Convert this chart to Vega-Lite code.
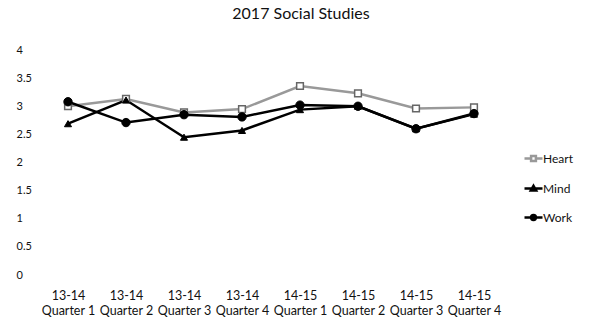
{
  "$schema": "https://vega.github.io/schema/vega-lite/v6.json",
  "width": 464,
  "height": 225,
  "autosize": "none",
  "padding": {"left": 39, "top": 50, "right": 105, "bottom": 50},
  "background": "white",
  "title": {"text": "2017 Social Studies", "fontSize": 16, "font": "Lato", "fontWeight": "normal", "color": "#111", "offset": 22, "dx": 30},
  "config": {"view": {"stroke": null}, "font": "Lato"},
  "data": {"values": [
    {"period": "13-14|Quarter 1", "series": "Heart", "value": 3.0},
    {"period": "13-14|Quarter 2", "series": "Heart", "value": 3.13},
    {"period": "13-14|Quarter 3", "series": "Heart", "value": 2.89},
    {"period": "13-14|Quarter 4", "series": "Heart", "value": 2.95},
    {"period": "14-15|Quarter 1", "series": "Heart", "value": 3.36},
    {"period": "14-15|Quarter 2", "series": "Heart", "value": 3.23},
    {"period": "14-15|Quarter 3", "series": "Heart", "value": 2.96},
    {"period": "14-15|Quarter 4", "series": "Heart", "value": 2.98},
    {"period": "13-14|Quarter 1", "series": "Mind", "value": 2.69},
    {"period": "13-14|Quarter 2", "series": "Mind", "value": 3.11},
    {"period": "13-14|Quarter 3", "series": "Mind", "value": 2.45},
    {"period": "13-14|Quarter 4", "series": "Mind", "value": 2.57},
    {"period": "14-15|Quarter 1", "series": "Mind", "value": 2.94},
    {"period": "14-15|Quarter 2", "series": "Mind", "value": 3.0},
    {"period": "14-15|Quarter 3", "series": "Mind", "value": 2.6},
    {"period": "14-15|Quarter 4", "series": "Mind", "value": 2.86},
    {"period": "13-14|Quarter 1", "series": "Work", "value": 3.08},
    {"period": "13-14|Quarter 2", "series": "Work", "value": 2.71},
    {"period": "13-14|Quarter 3", "series": "Work", "value": 2.85},
    {"period": "13-14|Quarter 4", "series": "Work", "value": 2.81},
    {"period": "14-15|Quarter 1", "series": "Work", "value": 3.02},
    {"period": "14-15|Quarter 2", "series": "Work", "value": 3.0},
    {"period": "14-15|Quarter 3", "series": "Work", "value": 2.6},
    {"period": "14-15|Quarter 4", "series": "Work", "value": 2.87}
  ]},
  "encoding": {
    "x": {"field": "period", "type": "ordinal", "sort": null, "scale": {"type": "point", "padding": 0.5},
      "axis": {"title": null, "labelAngle": 0, "domain": false, "ticks": false, "labelPadding": 14, "labelFontSize": 12.5, "labelColor": "#111", "labelLineHeight": 15,
        "labelExpr": "split(datum.label, '|')"}},
    "y": {"field": "value", "type": "quantitative", "scale": {"domain": [0, 4]},
      "axis": {"title": null, "values": [0, 0.5, 1, 1.5, 2, 2.5, 3, 3.5, 4], "format": "~g", "domain": false, "ticks": false, "grid": false, "labelAlign": "left", "labelPadding": 23, "labelFontSize": 11, "labelColor": "#111"}}
  },
  "layer": [
    {"mark": {"type": "line"},
      "encoding": {
        "color": {"field": "series", "type": "nominal", "scale": {"domain": ["Heart", "Mind", "Work"], "range": ["#999999", "#000000", "#000000"]},
          "legend": {"title": null, "orient": "none", "legendX": 487, "legendY": 101, "labelFontSize": 12, "labelColor": "#111", "symbolSize": 144, "rowPadding": 14, "labelOffset": 2,
            "symbolType": "M-1.5,0H1.5",
            "encode": {"symbols": {"update": {
              "shape": {"signal": "datum.value == 'Heart' ? 'M-1.5,0H-0.45M0.45,0H1.5M-0.4,-0.4H0.4V0.4H-0.4Z' : datum.value == 'Mind' ? 'M-1.5,0H1.5M0,-0.45L0.45,0.35H-0.45Z' : 'M-1.5,0H1.5M0.4,0A0.4,0.4,0,1,1,-0.4,0A0.4,0.4,0,1,1,0.4,0Z'"},
              "fill": {"signal": "datum.value == 'Heart' ? 'white' : 'black'"},
              "stroke": {"signal": "datum.value == 'Heart' ? '#777' : 'black'"},
              "strokeWidth": {"signal": "datum.value == 'Work' ? 3 : 2"},
              "fillOpacity": {"value": 1},
              "opacity": {"value": 1}
            }}}}},
        "strokeWidth": {"field": "series", "type": "nominal", "scale": {"domain": ["Heart", "Mind", "Work"], "range": [2.5, 2.5, 3.5]}, "legend": null}
      }},
    {"transform": [{"filter": "datum.series == 'Heart'"}],
      "mark": {"type": "point", "shape": "square", "filled": true, "fill": "white", "stroke": "#666", "strokeWidth": 1.5, "size": 45, "opacity": 1}},
    {"transform": [{"filter": "datum.series == 'Mind'"}],
      "mark": {"type": "point", "shape": "triangle-up", "filled": true, "fill": "black", "stroke": "black", "strokeWidth": 1, "size": 50, "opacity": 1}},
    {"transform": [{"filter": "datum.series == 'Work'"}],
      "mark": {"type": "point", "shape": "circle", "filled": true, "fill": "black", "stroke": "black", "strokeWidth": 1, "size": 70, "opacity": 1}}
  ]
}
